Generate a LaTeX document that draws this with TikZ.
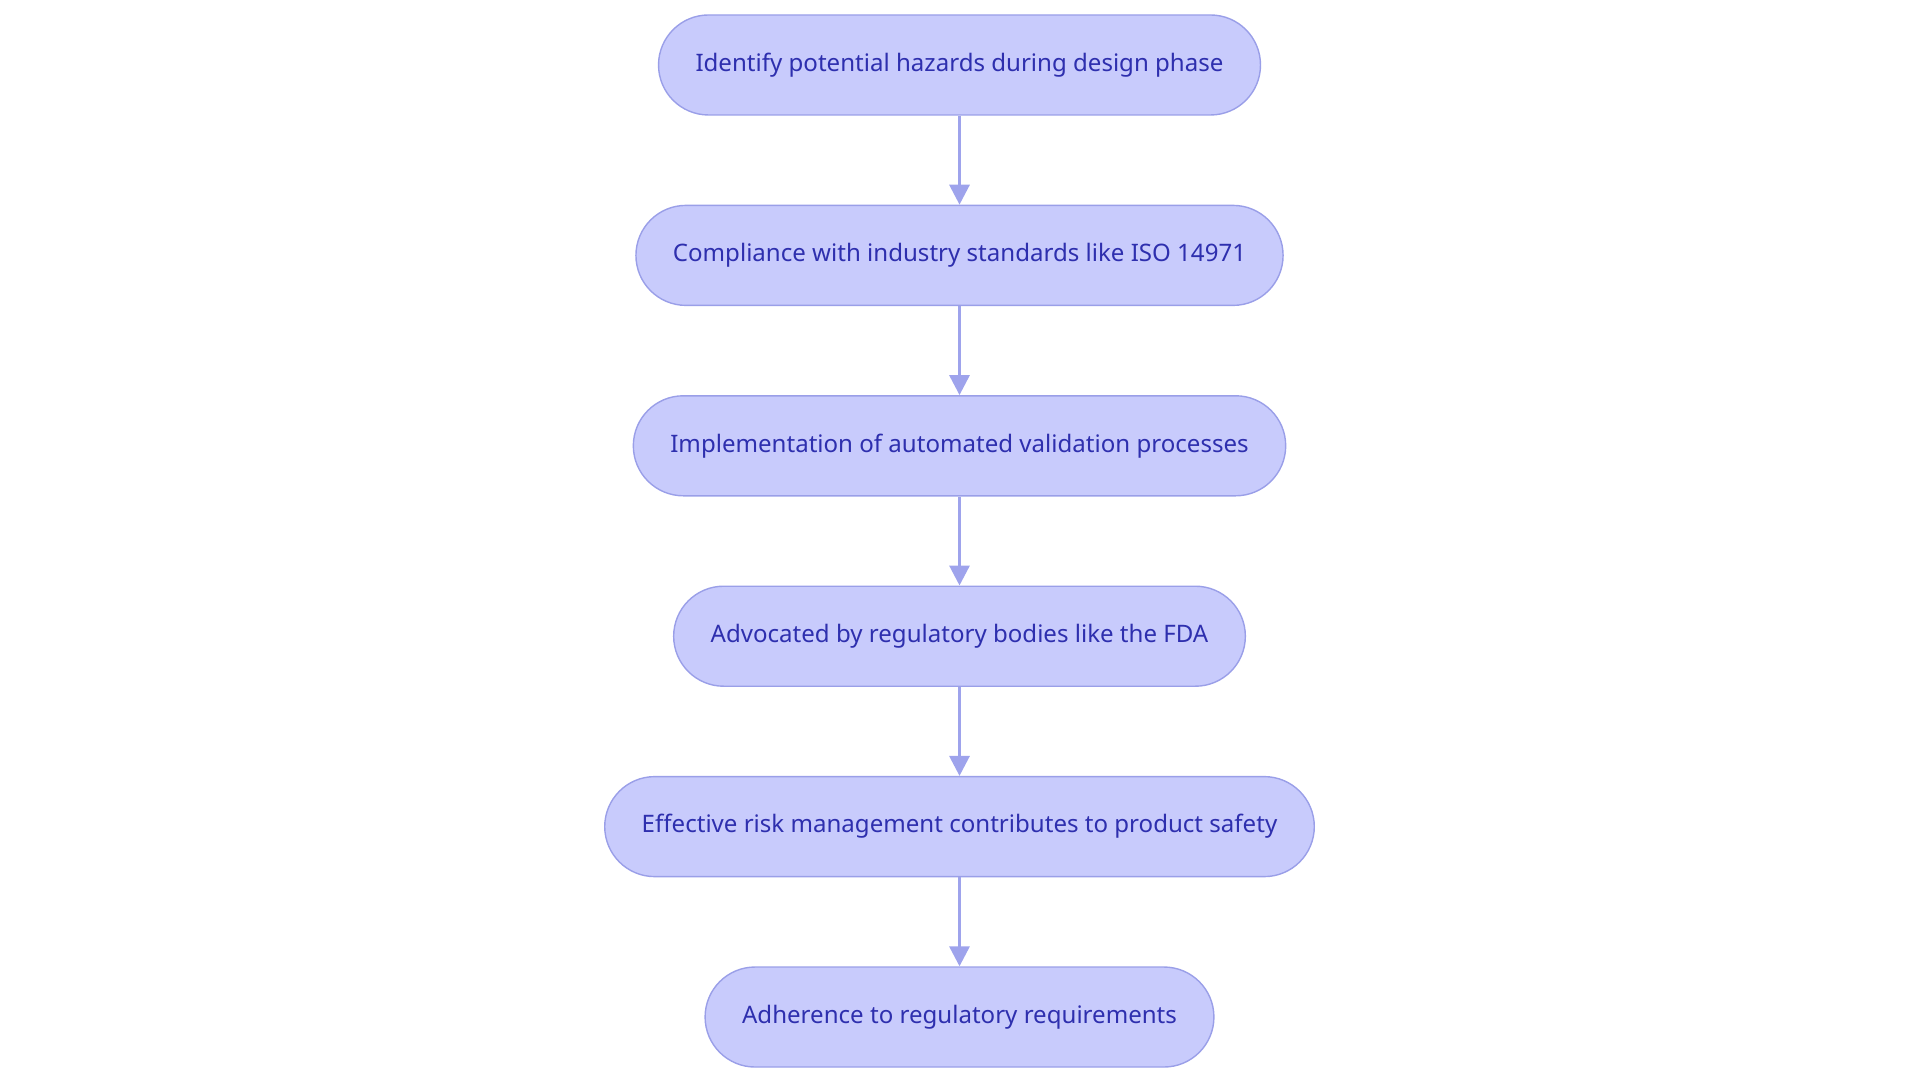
\documentclass[tikz,border=0pt]{standalone}
\usepackage{fontspec}
\setmainfont{Noto Sans}
\usetikzlibrary{positioning,arrows.meta}

\definecolor{pasofill}{HTML}{C8CBFC}
\definecolor{pasoborde}{HTML}{9A9FE8}
\definecolor{pasotexto}{HTML}{2E2FAE}
\definecolor{flecha}{HTML}{9EA3EC}

\tikzset{
  paso/.style={draw=pasoborde, fill=pasofill, line width=0.4pt, rounded corners=5mm,
    minimum height=10mm, inner xsep=3.7mm, text=pasotexto, font=\fontsize{6.85}{8.5}\selectfont},
  enlace/.style={draw=flecha, line width=0.9pt, -{Triangle[length=2mm,width=2mm]}}
}

\begin{document}
\begin{tikzpicture}[node distance=8.9mm]
        \useasboundingbox (0,0) rectangle (19.2,10.8);

        % Pasos
        \node[paso] (identificar) at (9.595,10.15) {Identify potential hazards during design phase};
        \node[paso, below=of identificar] (cumplimiento) {Compliance with industry standards like ISO 14971};
        \node[paso, below=of cumplimiento] (implementacion) {Implementation of automated validation processes};
        \node[paso, below=of implementacion] (fda) {Advocated by regulatory bodies like the FDA};
        \node[paso, below=of fda] (riesgo) {Effective risk management contributes to product safety};
        \node[paso, below=of riesgo] (adherencia) {Adherence to regulatory requirements};

        % Flechas
        \draw[enlace] (identificar) -- (cumplimiento);
        \draw[enlace] (cumplimiento) -- (implementacion);
        \draw[enlace] (implementacion) -- (fda);
        \draw[enlace] (fda) -- (riesgo);
        \draw[enlace] (riesgo) -- (adherencia);

    \end{tikzpicture}
\end{document}
